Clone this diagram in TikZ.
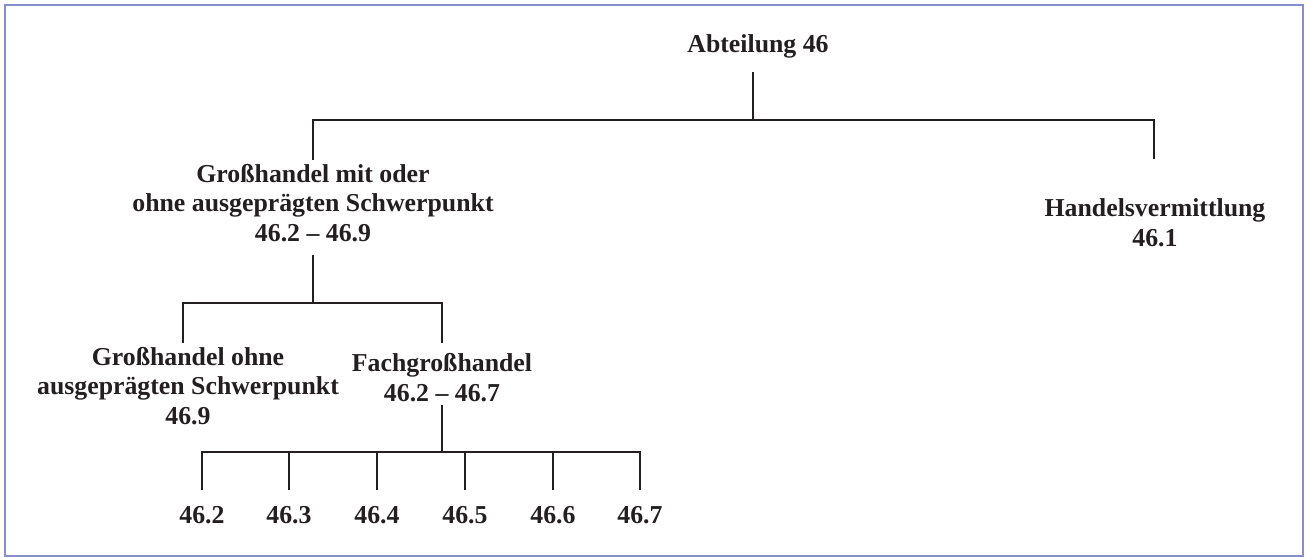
\documentclass[tikz,border=0pt]{standalone}
\usepackage{fontspec}
\setmainfont{Liberation Serif}
\definecolor{frame}{RGB}{134,142,204}
\definecolor{ink}{RGB}{35,31,32}
\tikzset{
  lbl/.style={font=\fontsize{25.8}{29.5}\selectfont\bfseries, text=ink, align=center, inner sep=0pt, anchor=base},
  conn/.style={draw=ink, line width=2.4pt},
}
\begin{document}
\begin{tikzpicture}[x=1pt,y=-1pt]
\useasboundingbox (0,0) rectangle (1306,557);
\draw[frame, line width=2pt] (5,5) rectangle (1303,556);
% nodes (anchor base = baseline of the last line)
\node[lbl] (a) at (758,52) {Abteilung 46};
\node[lbl] (b) at (313,241) {Großhandel mit oder\\ohne ausgeprägten Schwerpunkt\\46.2 – 46.9};
\node[lbl] (c) at (1155,246) {Handelsvermittlung\\46.1};
\node[lbl] (d) at (188,424) {Großhandel ohne\\ausgeprägten Schwerpunkt\\46.9};
\node[lbl] (e) at (442,401) {Fachgroßhandel\\46.2 – 46.7};
\node[lbl] (n2) at (202,523) {46.2};
\node[lbl] (n3) at (289,523) {46.3};
\node[lbl] (n4) at (377,523) {46.4};
\node[lbl] (n5) at (465,523) {46.5};
\node[lbl] (n6) at (553,523) {46.6};
\node[lbl] (n7) at (640,523) {46.7};
% connector points
\coordinate (a-s) at (753,72);
\coordinate (bar1) at (753,120);
\coordinate (b-n) at (313,160);
\coordinate (c-n) at (1154,159);
\coordinate (b-s) at (313,255);
\coordinate (bar2) at (313,303);
\coordinate (d-n) at (183,343);
\coordinate (e-n) at (442,343);
\coordinate (e-s) at (442,405);
\coordinate (bar3) at (442,452);
% connectors
\draw[conn] (a-s) -- (bar1);
\draw[conn] (b-n) |- (bar1) -| (c-n);
\draw[conn] (b-s) -- (bar2);
\draw[conn] (d-n) |- (bar2) -| (e-n);
\draw[conn] (e-s) -- (bar3);
\draw[conn] (n2.north |- 0,490) |- (bar3) -| (n7.north |- 0,490);
\foreach \n in {n3,n4,n5,n6} \draw[conn] (\n.north |- 0,490) -- (\n.north |- bar3);
\end{tikzpicture}
\end{document}
